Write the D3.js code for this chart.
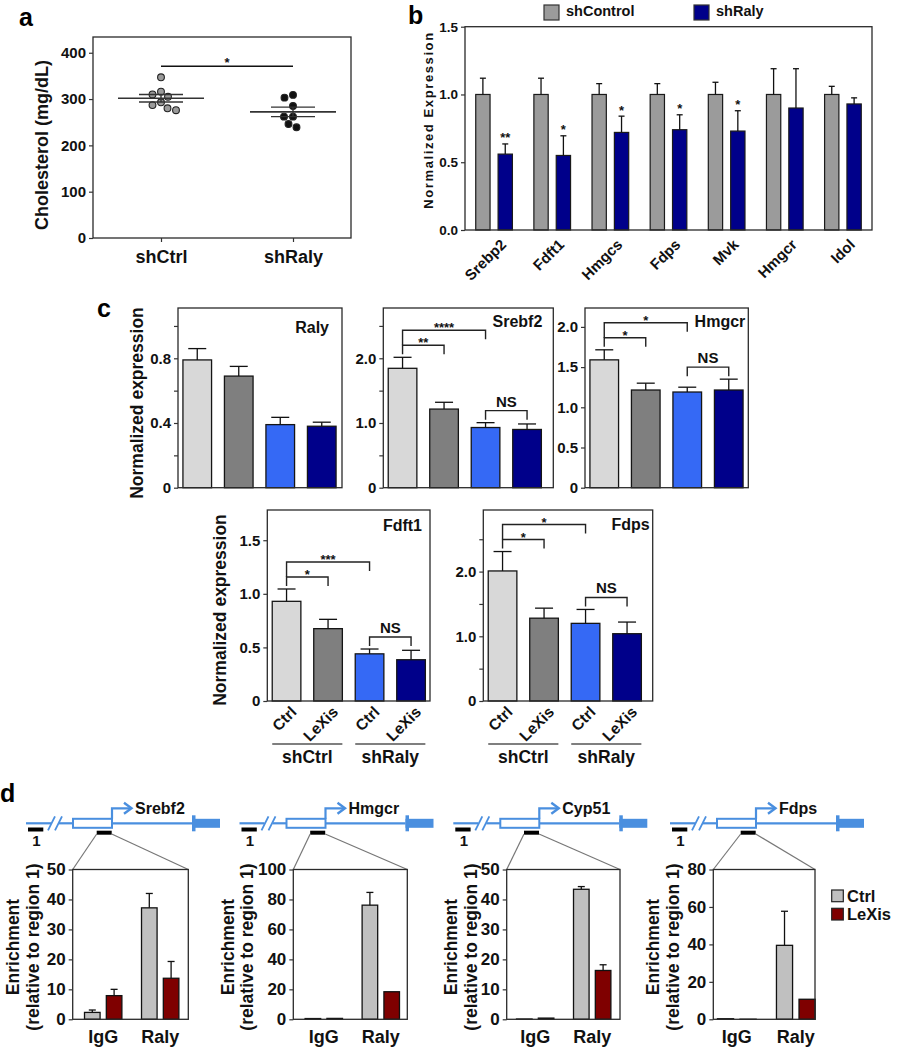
<!DOCTYPE html>
<html>
<head>
<meta charset="utf-8">
<script src="https://cdn.jsdelivr.net/npm/d3@7"></script>
<style>
body { margin: 0; background: #fff; }
svg { display: block; }
</style>
</head>
<body>
<svg id="fig" width="903" height="1050"></svg>
<script>
// ---------- panel a: plasma cholesterol ----------
const cholGroups = ["shCtrl", "shRaly"];
const cholCtrl = [347, 316, 310, 305, 293, 287, 280, 276];
const cholRaly = [309, 303, 285, 262, 262, 246, 239];
const cholTicks = [0, 100, 200, 300, 400];

// ---------- panel b: qPCR shControl vs shRaly ----------
const bGenes = ["Srebp2", "Fdft1", "Hmgcs", "Fdps", "Mvk", "Hmgcr", "Idol"];
const bSeries = ["shControl", "shRaly"];
const bControl = [1.0, 1.0, 1.0, 1.0, 1.0, 1.0, 1.0];
const bControlErr = [0.12, 0.12, 0.08, 0.08, 0.09, 0.19, 0.06];
const bRaly = [0.56, 0.55, 0.72, 0.74, 0.73, 0.90, 0.93];
const bRalyErr = [0.075, 0.145, 0.12, 0.11, 0.15, 0.29, 0.045];
const bStars = ["**", "*", "*", "*", "*", "", ""];
const bTicks = [0, 0.5, 1.0, 1.5];

// ---------- panel c: LeXis treatment ----------
const cConds = ["Ctrl", "LeXis", "Ctrl", "LeXis"];
const cGroups = ["shCtrl", "shRaly"];
const ralyMean = [0.79, 0.69, 0.39, 0.38];
const ralyErr = [0.07, 0.06, 0.045, 0.025];
const srebf2Mean = [1.845, 1.215, 0.93, 0.90];
const srebf2Err = [0.17, 0.105, 0.075, 0.085];
const hmgcrMean = [1.59, 1.215, 1.19, 1.215];
const hmgcrErr = [0.125, 0.085, 0.06, 0.135];
const fdft1Mean = [0.93, 0.675, 0.44, 0.385];
const fdft1Err = [0.115, 0.087, 0.045, 0.088];
const fdpsMean = [2.01, 1.28, 1.20, 1.04];
const fdpsErr = [0.30, 0.155, 0.215, 0.18];
const srebf2Sig = [[0, 1, "**"], [0, 2, "****"], [2, 3, "NS"]];
const hmgcrSig = [[0, 1, "*"], [0, 2, "*"], [2, 3, "NS"]];
const fdft1Sig = [[0, 1, "*"], [0, 2, "***"], [2, 3, "NS"]];
const fdpsSig = [[0, 1, "*"], [0, 2, "*"], [2, 3, "NS"]];
const ralyTicks = [0, 0.2, 0.4, 0.6, 0.8, 1.0];
const ralyTickLabels = [0, 0.4, 0.8];
const srebf2Ticks = [0, 0.5, 1.0, 1.5, 2.0, 2.5];
const srebf2TickLabels = [0, 1.0, 2.0];
const hmgcrTicks = [0, 0.5, 1.0, 1.5, 2.0];
const fdft1Ticks = [0, 0.5, 1.0, 1.5];
const fdpsTicks = [0, 0.5, 1.0, 1.5, 2.0, 2.5];
const fdpsTickLabels = [0, 1.0, 2.0];

// ---------- panel d: RIP / ChIP enrichment ----------
const dIPs = ["IgG", "Raly"];
const dSeries = ["Ctrl", "LeXis"];
const srebf2ChipCtrl = [2.3, 37.2];
const srebf2ChipCtrlErr = [0.8, 4.8];
const srebf2ChipLeXis = [7.9, 13.7];
const srebf2ChipLeXisErr = [2.1, 5.6];
const hmgcrChipCtrl = [0.5, 76.2];
const hmgcrChipCtrlErr = [0, 8.5];
const hmgcrChipLeXis = [0.6, 18.4];
const hmgcrChipLeXisErr = [0, 0.3];
const cyp51ChipCtrl = [0.1, 43.4];
const cyp51ChipCtrlErr = [0, 0.9];
const cyp51ChipLeXis = [0.4, 16.3];
const cyp51ChipLeXisErr = [0.1, 1.9];
const fdpsChipCtrl = [0.3, 39.5];
const fdpsChipCtrlErr = [0, 18.2];
const fdpsChipLeXis = [0.05, 10.7];
const fdpsChipLeXisErr = [0, 0.4];
const chip50Ticks = [0, 10, 20, 30, 40, 50];
const chip100Ticks = [0, 20, 40, 60, 80, 100];
const chip80Ticks = [0, 20, 40, 60, 80];

const FONT = "'Liberation Sans', Arial, sans-serif";
const INK = "#111";
const svg = d3.select("#fig").attr("font-family", FONT);

// ---- helpers ----
function txt(g, x, y, s, size, anchor) {
    return g.append("text").attr("x", x).attr("y", y)
        .attr("font-size", size).attr("font-weight", "bold")
        .attr("text-anchor", anchor || "start").attr("fill", INK).text(s);
}

function vtxt(g, cx, cy, s, size) {
    return g.append("text").attr("transform", `translate(${cx},${cy}) rotate(-90)`)
        .attr("text-anchor", "middle").attr("dy", "0.35em")
        .attr("font-size", size).attr("font-weight", "bold").attr("fill", INK).text(s);
}

function frame(g, b) {
    g.append("rect").attr("x", b.x).attr("y", b.y).attr("width", b.w).attr("height", b.h)
        .attr("fill", "none").attr("stroke", "#2a2a2a").attr("stroke-width", 1.3);
}

function leftAxis(g, y, x, ticks, labelled, fmt, size) {
    const ax = g.append("g").attr("transform", `translate(${x},0)`)
        .call(d3.axisLeft(y).tickValues(ticks).tickSize(4).tickPadding(3)
            .tickFormat(d => labelled.includes(d) ? fmt(d) : ""));
    ax.attr("font-family", null).attr("font-size", null);
    ax.select(".domain").remove();
    ax.selectAll(".tick line").attr("stroke", "#333").attr("stroke-width", 1.2);
    ax.selectAll(".tick text").attr("fill", INK).attr("font-size", size).attr("font-weight", "bold");
    return ax;
}

function errBar(g, cx, y0, y1, half) {
    g.append("line").attr("x1", cx).attr("x2", cx).attr("y1", y0).attr("y2", y1)
        .attr("stroke", "#111").attr("stroke-width", 1.3);
    g.append("line").attr("x1", cx - half).attr("x2", cx + half).attr("y1", y1).attr("y2", y1)
        .attr("stroke", "#111").attr("stroke-width", 1.3);
}

function star(g, x, y, s) {
    return txt(g, x, y, s, 13, "middle");
}

// simple beeswarm: stack dots sideways so they do not overlap
function swarm(vals, cx, y, dia) {
    const pts = [];
    vals.slice().sort((a, b) => b - a).forEach(v => {
        const py = y(v);
        for (let s = 0; s < 400; s++) {
            const off = (s % 2 ? -1 : 1) * Math.ceil(s / 2) * 0.5;
            if (pts.every(p => Math.hypot(p.x - cx - off, p.y - py) >= dia)) {
                pts.push({ x: cx + off, y: py, v });
                break;
            }
        }
    });
    return pts;
}

function letter(t, x, y) {
    svg.append("text").attr("x", x).attr("y", y).attr("font-size", 25)
        .attr("font-weight", "bold").attr("fill", "#000").text(t);
}

// ================= panel a =================
(function panelA() {
    const box = { x: 93, y: 37, w: 258, h: 201 };
    const g = svg.append("g");
    letter("a", 19, 26);
    const y = d3.scaleLinear().domain([0, 434]).range([box.y + box.h, box.y]);
    const x = d3.scalePoint().domain(cholGroups).range([box.x + 68, box.x + 200]);

    frame(g, box);
    leftAxis(g, y, box.x, cholTicks, cholTicks, d3.format("d"), 15);
    const bx = g.append("g").attr("transform", `translate(0,${box.y + box.h})`)
        .call(d3.axisBottom(x).tickSize(4).tickPadding(8));
    bx.attr("font-family", null).attr("font-size", null);
    bx.select(".domain").remove();
    bx.selectAll(".tick line").attr("stroke", "#333").attr("stroke-width", 1.2);
    bx.selectAll(".tick text").attr("fill", INK).attr("font-size", 18).attr("font-weight", "bold");
    vtxt(g, 42, 145, "Cholesterol (mg/dL)", 18);

    [cholCtrl, cholRaly].forEach((vals, i) => {
        const cx = x(cholGroups[i]);
        const pts = swarm(vals, cx, y, 8.6);
        g.selectAll(null).data(pts).enter().append("circle")
            .attr("cx", d => d.x).attr("cy", d => d.y).attr("r", 3.4)
            .attr("fill", i === 0 ? "#9a9a9a" : "#111").attr("stroke", "#222").attr("stroke-width", 1.1);
        const m = d3.mean(vals);
        const sem = d3.deviation(vals) / Math.sqrt(vals.length);
        const line = (x1, x2, yy, w) => g.append("line").attr("x1", x1).attr("x2", x2)
            .attr("y1", yy).attr("y2", yy).attr("stroke", "#333").attr("stroke-width", w);
        line(cx - 43, cx + 43, y(m), 1.6);
        line(cx - 22, cx + 22, y(m + sem), 1.4);
        line(cx - 22, cx + 22, y(m - sem), 1.4);
        g.append("line").attr("x1", cx).attr("x2", cx).attr("y1", y(m + sem)).attr("y2", y(m - sem))
            .attr("stroke", "#333").attr("stroke-width", 1.4);
    });

    const sy = y(d3.max(cholCtrl.concat(cholRaly))) - 11;
    g.append("line").attr("x1", x(cholGroups[0])).attr("x2", x(cholGroups[1]))
        .attr("y1", sy).attr("y2", sy).attr("stroke", "#111").attr("stroke-width", 1.5);
    star(g, (x(cholGroups[0]) + x(cholGroups[1])) / 2, sy + 1, "*");
})();

// ================= panel b =================
(function panelB() {
    const box = { x: 465, y: 26.7, w: 407, h: 203.3 };
    const g = svg.append("g");
    letter("b", 408, 24);
    const y = d3.scaleLinear().domain([0, 1.5]).range([box.y + box.h, box.y]);
    const x = d3.scaleBand().domain(bGenes).range([box.x, box.x + box.w]);
    const xs = d3.scaleBand().domain(bSeries).range([0, x.bandwidth()])
        .paddingInner(0.36).paddingOuter(0.48);
    const colors = ["#9b9b9b", "#00008a"];
    const means = [bControl, bRaly];
    const errs = [bControlErr, bRalyErr];

    bSeries.forEach((s, si) => {
        bGenes.forEach((gene, i) => {
            const x0 = x(gene) + xs(s);
            const v = means[si][i];
            g.append("rect").attr("x", x0).attr("y", y(v)).attr("width", xs.bandwidth())
                .attr("height", y(0) - y(v)).attr("fill", colors[si])
                .attr("stroke", "#1a1a1a").attr("stroke-width", 1.2);
            errBar(g, x0 + xs.bandwidth() / 2, y(v), y(v + errs[si][i]), 3);
            if (si === 1 && bStars[i]) {
                star(g, x0 + xs.bandwidth() / 2, y(v + errs[si][i]) - 1.5, bStars[i]);
            }
        });
    });

    frame(g, box);
    leftAxis(g, y, box.x, bTicks, bTicks, d3.format(".1f"), 13.5);
    vtxt(g, 428, 120, "Normalized Expression", 13).attr("letter-spacing", 1.6);

    bGenes.forEach(gene => {
        const cx = x(gene) + x.bandwidth() / 2;
        g.append("text").attr("transform", `translate(${cx + 13},${box.y + box.h + 15.5}) rotate(-45)`)
            .attr("text-anchor", "end").attr("font-size", 15).attr("font-weight", "bold")
            .attr("fill", INK).text(gene);
    });

    // legend
    const leg = [[544, bSeries[0]], [694, bSeries[1]]];
    leg.forEach(([lx, name], i) => {
        g.append("rect").attr("x", lx).attr("y", 5).attr("width", 15).attr("height", 15)
            .attr("fill", colors[i]).attr("stroke", "#333").attr("stroke-width", 1.2);
        txt(g, lx + 22, 16, name, 14.5);
    });
})();

// ================= panel c =================
const cColors = ["#d8d8d8", "#7f7f7f", "#3569f5", "#00008a"];
const cFmt = d => d === 0 ? "0" : d3.format(".1f")(d);

function panelC(spec) {
    const { box, means, errs, ticks, labels, max, title, titleDx, titleY, sig } = spec;
    const g = svg.append("g");
    const y = d3.scaleLinear().domain([0, max]).range([box.y + box.h, box.y]);
    const x = d3.scaleBand().domain(d3.range(4)).range([box.x - 1.5, box.x + 164.5])
        .paddingInner(0.31).paddingOuter(0.155);

    means.forEach((v, i) => {
        g.append("rect").attr("x", x(i)).attr("y", y(v)).attr("width", x.bandwidth())
            .attr("height", y(0) - y(v)).attr("fill", cColors[i])
            .attr("stroke", "#151515").attr("stroke-width", 1.3);
        errBar(g, x(i) + x.bandwidth() / 2, y(v), y(v + errs[i]), 9);
    });
    frame(g, box);
    leftAxis(g, y, box.x, ticks, labels, cFmt, 15);
    txt(g, box.x + box.w - titleDx, titleY, title, 16, "end");

    // significance brackets, narrowest first so wider ones stack above
    const mid = i => x(i) + x.bandwidth() / 2;
    const placed = [];
    (sig || []).map(([a, b, t]) => ({ a, b, t }))
        .sort((p, q) => (p.b - p.a) - (q.b - q.a))
        .forEach(s => {
            const tops = d3.range(s.a, s.b + 1).map(i => y(means[i] + errs[i]));
            let yy = d3.min(tops) - 12;
            let inner = null;
            placed.forEach(p => {
                if (p.a >= s.a && p.b <= s.b && p.y - 15 < yy) { yy = p.y - 15; inner = p; }
            });
            const leftEnd = inner && inner.a === s.a ? inner.y : yy + 9;
            g.append("path")
                .attr("d", `M${mid(s.a)},${leftEnd}V${yy}H${mid(s.b)}V${yy + 9}`)
                .attr("fill", "none").attr("stroke", "#222").attr("stroke-width", 1.4);
            const cx = (mid(s.a) + mid(s.b)) / 2;
            if (s.t === "NS") txt(g, cx, yy - 4, s.t, 15, "middle");
            else star(g, cx, yy + 2, s.t);
            placed.push({ a: s.a, b: s.b, y: yy });
        });

    if (spec.xLabels) {
        const base = box.y + box.h;
        cConds.forEach((c, i) => {
            g.append("text").attr("transform", `translate(${mid(i) + 11},${base + 12}) rotate(-45)`)
                .attr("text-anchor", "end").attr("font-size", 15.5).attr("font-weight", "bold")
                .attr("fill", INK).text(c);
        });
        cGroups.forEach((grp, k) => {
            const x1 = x(2 * k), x2 = x(2 * k + 1) + x.bandwidth();
            g.append("line").attr("x1", x1).attr("x2", x2).attr("y1", base + 43).attr("y2", base + 43)
                .attr("stroke", "#555").attr("stroke-width", 1.6);
            txt(g, (x1 + x2) / 2, base + 62, grp, 17.5, "middle");
        });
    }
    return g;
}

letter("c", 97, 317);
panelC({ box: { x: 178, y: 308, w: 164, h: 179.7 }, means: ralyMean, errs: ralyErr,
    ticks: ralyTicks, labels: ralyTickLabels, max: 1.111, title: "Raly", titleDx: 13, titleY: 333 });
panelC({ box: { x: 383.3, y: 308, w: 170, h: 179.7 }, means: srebf2Mean, errs: srebf2Err,
    ticks: srebf2Ticks, labels: srebf2TickLabels, max: 2.777, title: "Srebf2", titleDx: 11, titleY: 327,
    sig: srebf2Sig });
panelC({ box: { x: 585, y: 308, w: 163.3, h: 179.7 }, means: hmgcrMean, errs: hmgcrErr,
    ticks: hmgcrTicks, labels: hmgcrTicks, max: 2.235, title: "Hmgcr", titleDx: 3, titleY: 327,
    sig: hmgcrSig });
panelC({ box: { x: 267.3, y: 510, w: 162.7, h: 191 }, means: fdft1Mean, errs: fdft1Err,
    ticks: fdft1Ticks, labels: fdft1Ticks, max: 1.782, title: "Fdft1", titleDx: 8, titleY: 531,
    sig: fdft1Sig, xLabels: true });
panelC({ box: { x: 483.3, y: 510, w: 169.4, h: 191 }, means: fdpsMean, errs: fdpsErr,
    ticks: fdpsTicks, labels: fdpsTickLabels, max: 2.952, title: "Fdps", titleDx: 3, titleY: 530,
    sig: fdpsSig, xLabels: true });
vtxt(svg, 137, 403, "Normalized expression", 17.5);
vtxt(svg, 220, 610, "Normalized expression", 17.5);

// ================= panel d =================
const BLUE = "#4a8fdf";
const dColors = ["#c0c0c0", "#7f0000"];

function geneDiagram(g, x0, name) {
    const ly = 823.3;
    const seg = (a, b) => g.append("line").attr("x1", x0 + a).attr("x2", x0 + b)
        .attr("y1", ly).attr("y2", ly).attr("stroke", BLUE).attr("stroke-width", 2.2);
    seg(0, 25); seg(33, 47); seg(86, 166);
    [[22, 29], [29, 36]].forEach(([a, b]) => g.append("line")
        .attr("x1", x0 + a).attr("y1", ly + 7).attr("x2", x0 + b).attr("y2", ly - 7)
        .attr("stroke", BLUE).attr("stroke-width", 1.8));
    g.append("rect").attr("x", x0 + 47).attr("y", ly - 4.5).attr("width", 39).attr("height", 9)
        .attr("fill", "#fff").attr("stroke", BLUE).attr("stroke-width", 2);
    g.append("rect").attr("x", x0 + 166).attr("y", ly - 4.5).attr("width", 28).attr("height", 9).attr("fill", BLUE);
    g.append("rect").attr("x", x0 + 166).attr("y", ly - 8).attr("width", 3.5).attr("height", 16).attr("fill", BLUE);
    g.append("path").attr("d", `M${x0 + 86},${ly - 4.5}V${ly - 15}H${x0 + 104}`)
        .attr("fill", "none").attr("stroke", BLUE).attr("stroke-width", 2.2);
    g.append("path").attr("d", `M${x0 + 98},${ly - 20.5}L${x0 + 105.5},${ly - 15}L${x0 + 98},${ly - 9.5}`)
        .attr("fill", "none").attr("stroke", BLUE).attr("stroke-width", 2.4);
    txt(g, x0 + 109, 813.5, name, 16);
    // amplicon markers
    g.append("rect").attr("x", x0 + 2).attr("y", 827.5).attr("width", 15.3).attr("height", 4).attr("fill", "#000");
    txt(g, x0 + 10.5, 845.5, "1", 15, "middle");
    g.append("rect").attr("x", x0 + 70.7).attr("y", 830.7).attr("width", 15).attr("height", 4).attr("fill", "#000");
}

function panelD(spec) {
    const { x0, box, band, name, ctrl, ctrlErr, lexis, lexisErr, max, ticks, lab1, lab2 } = spec;
    const g = svg.append("g");
    geneDiagram(g, x0, name);
    // zoom-in lines from marker 2 to the chart
    [[x0 + 70.7, box.x], [x0 + 85.7, box.x + box.w]].forEach(([a, b]) => g.append("line")
        .attr("x1", a).attr("y1", 834).attr("x2", b).attr("y2", box.y)
        .attr("stroke", "#777").attr("stroke-width", 1.2));

    const y = d3.scaleLinear().domain([0, max]).range([box.y + box.h, box.y]);
    const x = d3.scaleBand().domain(dIPs).range([box.x + band[0], box.x + band[1]]);
    const xs = d3.scaleBand().domain(dSeries).range([0, x.bandwidth()])
        .paddingInner(0.286).paddingOuter(0.45);
    const vals = [ctrl, lexis], errs = [ctrlErr, lexisErr];
    dSeries.forEach((s, si) => {
        dIPs.forEach((ip, i) => {
            const v = vals[si][i];
            const bx = x(ip) + xs(s);
            g.append("rect").attr("x", bx).attr("y", y(v)).attr("width", xs.bandwidth())
                .attr("height", Math.max(0, y(0) - y(v))).attr("fill", dColors[si])
                .attr("stroke", "#111").attr("stroke-width", 1.3);
            if (errs[si][i] > 0.5) errBar(g, bx + xs.bandwidth() / 2, y(v), y(v + errs[si][i]), 3.5);
        });
    });
    frame(g, box);
    leftAxis(g, y, box.x, ticks, ticks, d3.format("d"), 17);
    dIPs.forEach(ip => txt(g, x(ip) + x.bandwidth() / 2, 1043, ip, 18, "middle"));
    vtxt(g, lab1, 947, "Enrichment", 17.5);
    vtxt(g, lab2, 947, "(relative to region 1)", 17.5);
}

letter("d", 0, 802);
const dTop = 869.5, dH = 149.8;
panelD({ x0: 26, box: { x: 72.7, y: dTop, w: 115.6, h: dH }, band: [2, 116], name: "Srebf2",
    ctrl: srebf2ChipCtrl, ctrlErr: srebf2ChipCtrlErr, lexis: srebf2ChipLeXis, lexisErr: srebf2ChipLeXisErr,
    max: 50, ticks: chip50Ticks, lab1: 13.3, lab2: 33.3 });
panelD({ x0: 239.5, box: { x: 293.3, y: dTop, w: 114, h: dH }, band: [2, 116], name: "Hmgcr",
    ctrl: hmgcrChipCtrl, ctrlErr: hmgcrChipCtrlErr, lexis: hmgcrChipLeXis, lexisErr: hmgcrChipLeXisErr,
    max: 100, ticks: chip100Ticks, lab1: 227.5, lab2: 246.7 });
panelD({ x0: 453.3, box: { x: 506.7, y: dTop, w: 113.3, h: dH }, band: [0, 114], name: "Cyp51",
    ctrl: cyp51ChipCtrl, ctrlErr: cyp51ChipCtrlErr, lexis: cyp51ChipLeXis, lexisErr: cyp51ChipLeXisErr,
    max: 50, ticks: chip50Ticks, lab1: 450.8, lab2: 470.8 });
panelD({ x0: 670, box: { x: 713.3, y: dTop, w: 101.7, h: dH }, band: [-6, 112], name: "Fdps",
    ctrl: fdpsChipCtrl, ctrlErr: fdpsChipCtrlErr, lexis: fdpsChipLeXis, lexisErr: fdpsChipLeXisErr,
    max: 80, ticks: chip80Ticks, lab1: 652.5, lab2: 673.3 });

// legend for panel d
dSeries.forEach((s, i) => {
    svg.append("rect").attr("x", 831.7).attr("y", 890 + i * 18.3).attr("width", 11.6).attr("height", 11.7)
        .attr("fill", dColors[i]).attr("stroke", "#222").attr("stroke-width", 1.2);
    txt(svg, 847, 901.5 + i * 18.3, s, 16.5);
});
</script>
</body>
</html>
